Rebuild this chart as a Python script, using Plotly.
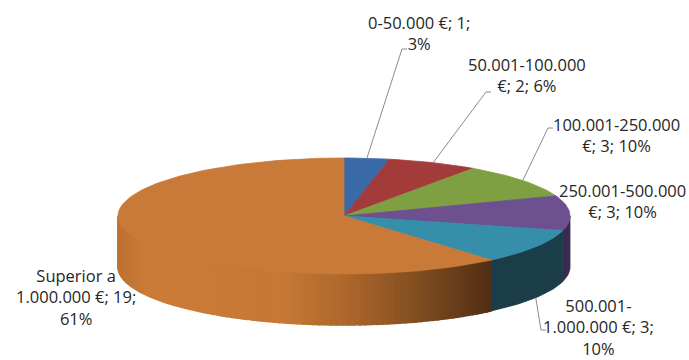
import re
import numpy as np
import plotly.graph_objects as go

# ---------------- data ----------------
categories = ["0-50.000 €", "50.001-100.000 €", "100.001-250.000 €",
              "250.001-500.000 €", "500.001-1.000.000 €", "Superior a 1.000.000 €"]
values = [1, 2, 3, 3, 3, 19]
top_colors = ["#3A6BA8", "#A23B3A", "#7FA042", "#6C5090", "#358EAA", "#C97A38"]
side_colors = ["#22406A", "#5E2222", "#4A6026", "#3A2A52", "#1B3D4A", None]
wrap_widths = [14, 14, 15, 15, 15, 16]
label_pos = [(419, 33), (527, 75), (616, 135), (622, 201), (598, 327), (76, 297)]
leader_end = [(402, 49), (486, 92), (548, 128), None, (541, 330), None]

# ---------------- geometry ----------------
W, H = 689, 360
cx, cy, rx, ry, depth = 344, 216, 226, 58, 51

total = sum(values)
pcts = [round(v / total * 100) for v in values]
bounds = np.concatenate([[0], np.cumsum(values)]) / total * 360.0


def pt(theta, dz=0.0):
    t = np.radians(theta)
    return cx + rx * np.sin(t), cy - ry * np.cos(t) + dz


def arc(a, b, dz=0.0, n=None):
    if n is None:
        n = max(4, int(abs(b - a) / 1.5) + 2)
    th = np.linspace(a, b, n)
    xs, ys = pt(th, dz)
    return list(xs), list(ys)


def wrap(s, w):
    toks = [t for t in re.split(r'(?<=[ -])', s) if t]
    lines, cur = [], ""
    for t in toks:
        if cur and len((cur + t).rstrip()) > w:
            lines.append(cur.rstrip())
            cur = t
        else:
            cur += t
    if cur:
        lines.append(cur.rstrip())
    return "<br>".join(lines)


def lerp_col(t):
    stops = [(0.0, (188, 114, 50)), (0.08, (204, 124, 56)), (0.45, (198, 120, 53)),
             (0.62, (172, 102, 44)), (0.8, (130, 78, 33)), (1.0, (80, 47, 20))]
    for (t0, c0), (t1, c1) in zip(stops[:-1], stops[1:]):
        if t <= t1:
            f = (t - t0) / (t1 - t0) if t1 > t0 else 0
            c = [int(c0[k] + (c1[k] - c0[k]) * f) for k in range(3)]
            return "rgb(%d,%d,%d)" % tuple(c)
    return "rgb(%d,%d,%d)" % stops[-1][1]


fig = go.Figure()


def add_poly(xs, ys, color, lw=0.8):
    fig.add_trace(go.Scatter(x=xs + [xs[0]], y=ys + [ys[0]], mode="lines",
                             fill="toself", fillcolor=color,
                             line=dict(color=color, width=lw),
                             hoverinfo="skip", showlegend=False))


# side faces (front half visible: 90..270 deg)
for i in range(len(values)):
    a, b = max(bounds[i], 90), min(bounds[i + 1], 270)
    if b <= a:
        continue
    if side_colors[i] is not None:
        tx, ty = arc(a, b)
        bx, by = arc(b, a, depth)
        add_poly(tx + bx, ty + by, side_colors[i])
    else:
        x_left, x_right = pt(270)[0], pt(a)[0]
        edges = np.linspace(a, b, 90)
        for e0, e1 in zip(edges[:-1], edges[1:]):
            xm = pt((e0 + e1) / 2)[0]
            tt = (x_right - xm) / (x_right - x_left)
            col = lerp_col(1 - tt)
            tx, ty = arc(e0, e1, n=3)
            bx, by = arc(e1, e0, depth, n=3)
            add_poly(tx + bx, ty + by, col, lw=1.5)

# top faces
for i in range(len(values)):
    xs, ys = arc(bounds[i], bounds[i + 1])
    add_poly([cx] + xs, [cy] + ys, top_colors[i])

# labels and leader lines
font = dict(family="Open Sans", size=16.5, color="#262626")
for i in range(len(values)):
    text = wrap(f"{categories[i]}; {values[i]}; {pcts[i]}%", wrap_widths[i])
    lx, ly = label_pos[i]
    fig.add_annotation(x=lx, y=ly, text=text, showarrow=False, font=font,
                       xanchor="center", yanchor="middle", align="center")
    if leader_end[i] is not None:
        mid = (bounds[i] + bounds[i + 1]) / 2
        sx, sy = pt(mid, depth if 90 < mid < 270 else 0)
        ex, ey = leader_end[i]
        fig.add_trace(go.Scatter(x=[sx, ex, ex + 5], y=[sy, ey, ey], mode="lines",
                                 line=dict(color="#8C8C8C", width=1),
                                 hoverinfo="skip", showlegend=False))

fig.update_layout(
    width=W, height=H, margin=dict(l=0, r=0, t=0, b=0),
    paper_bgcolor="white", plot_bgcolor="white",
    xaxis=dict(range=[0, W], visible=False, fixedrange=True),
    yaxis=dict(range=[H, 0], visible=False, fixedrange=True),
)
fig.write_html("out.html")
